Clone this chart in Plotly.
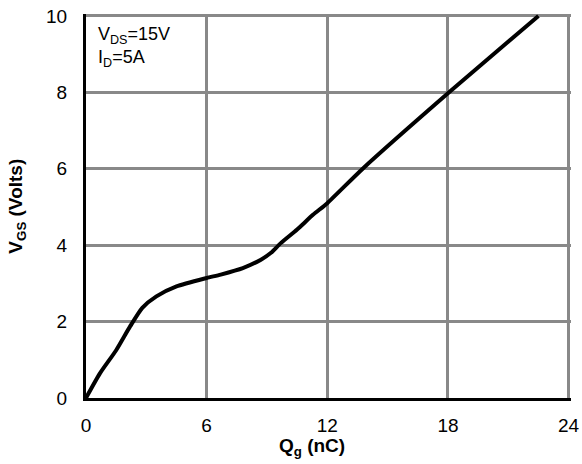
import plotly.graph_objects as go

# Gate charge curve data
qg_nc = [0, 0.7, 1.5, 2.2, 2.8, 3.5, 4.5, 6.0, 6.7, 7.8, 8.7, 9.2, 9.7, 10.5,
         11.3, 12.0, 13.8, 18.1, 22.5]
vgs_v = [0, 0.65, 1.25, 1.88, 2.36, 2.66, 2.92, 3.14, 3.23, 3.40, 3.62, 3.80,
         4.06, 4.41, 4.80, 5.10, 6.02, 8.02, 10.0]

x_ticks = [0, 6, 12, 18, 24]
y_ticks = [0, 2, 4, 6, 8, 10]

FONT = "Liberation Sans, Arial, sans-serif"
GRID = "#898989"

fig = go.Figure()
fig.add_trace(go.Scatter(
    x=qg_nc, y=vgs_v, mode="lines",
    line=dict(color="black", width=4, shape="spline", smoothing=0.6),
    showlegend=False, hoverinfo="skip",
))

fig.update_layout(
    width=582, height=464,
    margin=dict(l=86, r=11, t=14, b=66),
    paper_bgcolor="white", plot_bgcolor="white",
    font=dict(family=FONT, size=18, color="black"),
    xaxis=dict(
        range=[0, 24.12], tickvals=x_ticks, ticktext=[str(t) for t in x_ticks],
        showgrid=True, gridcolor=GRID, gridwidth=3, automargin=False,
        zeroline=False, showline=True, linecolor="black", linewidth=3,
        ticks="", ticklabelstandoff=8, tickfont=dict(size=19),
    ),
    yaxis=dict(
        range=[0, 10.05], tickvals=y_ticks, ticktext=[str(t) for t in y_ticks],
        showgrid=True, gridcolor=GRID, gridwidth=3, automargin=False,
        zeroline=False, showline=True, linecolor="black", linewidth=3,
        ticks="", ticklabelstandoff=12, tickfont=dict(size=19),
    ),
    annotations=[
        dict(text="V<sub>DS</sub>=15V<br>I<sub>D</sub>=5A", xref="paper", yref="paper",
             x=0.02, y=0.98, xanchor="left", yanchor="top", showarrow=False,
             align="left", font=dict(size=18)),
        dict(text="<b>Q<sub>g</sub> (nC)</b>", xref="paper", yref="paper",
             x=0.466, y=-0.128, xanchor="center", yanchor="middle", showarrow=False,
             font=dict(size=19)),
        dict(text="<b>V<sub>GS</sub> (Volts)</b>", xref="paper", yref="paper",
             x=-0.143, y=0.5, xanchor="center", yanchor="middle", showarrow=False,
             textangle=-90, font=dict(size=19)),
    ],
)

fig.write_html("out.html", config={"displayModeBar": False},
               post_script="document.body.style.margin='0';document.body.style.overflow='hidden';")
